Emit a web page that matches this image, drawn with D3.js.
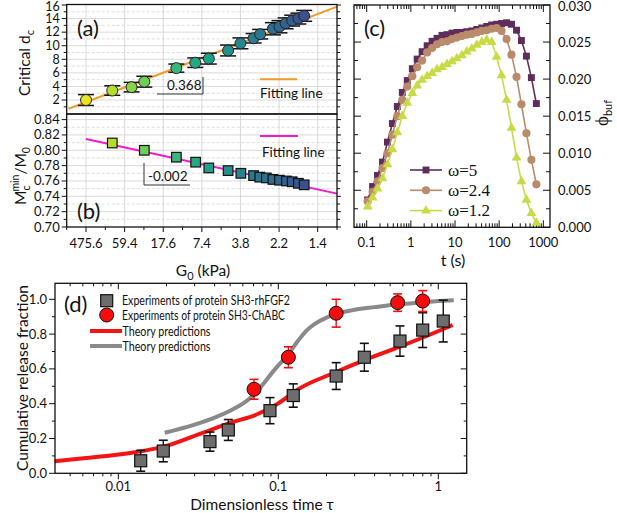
<!DOCTYPE html>
<html><head><meta charset="utf-8">
<script src="https://cdn.jsdelivr.net/npm/d3@7"></script>
<style>body{margin:0;background:#fff} svg{display:block;font-family:Lato,"Open Sans",sans-serif} text{fill:#111}</style>
</head><body><svg id="c" width="617" height="513"></svg>
<script>
// ---------------- DATA ----------------
// panels (a),(b): shared G0 axis (category-like positions)
const gLabels = ["475.6","59.4","17.6","7.4","3.8","2.2","1.4"];
const gPos = [0,1,2,3,4,5,6];
const aPos = [0,0.68,1.18,1.51,2.34,2.83,3.18,3.68,4.0,4.34,4.51,4.84,5.01,5.17,5.34,5.5,5.65];
const aVal = [2.0,3.4,3.9,4.7,6.7,7.5,8.1,9.3,10.35,11.1,11.7,12.5,12.8,13.3,13.7,14.0,14.4];
const aErr = [0.8,0.7,0.7,0.8,0.6,0.7,0.8,0.8,0.8,0.7,0.7,0.9,0.9,0.8,0.8,0.8,0.8];
const aFitX = [-0.45,6.5];
const aFitY = [0.72,15.76];
const aTicks = [2,4,6,8,10,12,14,16];
const bPos = [0.68,1.51,2.34,2.84,3.18,3.68,4.01,4.34,4.50,4.67,4.84,5.01,5.19,5.34,5.5,5.65];
const bVal = [0.8095,0.800,0.791,0.7845,0.777,0.7735,0.770,0.767,0.765,0.764,0.762,0.761,0.760,0.759,0.757,0.755];
const bFitX = [0,6.5];
const bFitY = [0.8148,0.7435];
const bTicks = [0.70,0.72,0.74,0.76,0.78,0.80,0.82,0.84];
// panel (c)
const cTime = [0.105,0.136,0.176,0.228,0.295,0.382,0.494,0.641,0.830,1.08,1.39,1.80,2.34,3.03,3.92,5.08,6.58,8.53,11.0,14.3,18.5,24.0,31.1,40.3,52.2,67.6,87.5,113,147,190,247,319,414,536,695];
const cW5  = [0.0037,0.0055,0.0070,0.0088,0.0115,0.0140,0.0163,0.0182,0.0198,0.0214,0.0227,0.0237,0.0245,0.0251,0.0255,0.0259,0.0260,0.0262,0.0263,0.0263,0.0264,0.0265,0.0267,0.0269,0.0271,0.0273,0.0274,0.0275,0.0276,0.0274,0.0266,0.0252,0.0231,0.0202,0.0167];
const cW24 = [0.0035,0.0048,0.0062,0.0080,0.0100,0.0125,0.0150,0.0172,0.0190,0.0204,0.0216,0.0225,0.0236,0.0242,0.0247,0.0250,0.0251,0.0254,0.0256,0.0258,0.0260,0.0261,0.0263,0.0265,0.0266,0.0268,0.0269,0.0265,0.0254,0.0233,0.0203,0.0166,0.0127,0.0091,0.0058];
const cW12 = [0.0028,0.0040,0.0052,0.0066,0.0085,0.0105,0.0128,0.0150,0.0168,0.0181,0.0191,0.0199,0.0204,0.0208,0.0213,0.0216,0.0220,0.0224,0.0228,0.0232,0.0237,0.0241,0.0246,0.0250,0.0253,0.0250,0.0230,0.0205,0.0172,0.0134,0.0094,0.0062,0.0037,0.0019,0.0006];
const cXTicks = [0.1,1,10,100,1000];
const cXLabels = ["0.1","1","10","100","1000"];
const cYTicks = [0,0.005,0.010,0.015,0.020,0.025,0.030];
const cYLabels = ["0.000","0.005","0.010","0.015","0.020","0.025","0.030"];
// panel (d)
const dTauFGF = [0.0138,0.0191,0.0374,0.0487,0.0887,0.124,0.230,0.345,0.576,0.799,1.074];
const dValFGF = [0.072,0.128,0.182,0.249,0.360,0.447,0.559,0.667,0.760,0.823,0.875];
const dErrFGF = [0.060,0.062,0.055,0.060,0.075,0.067,0.077,0.080,0.087,0.100,0.120];
const dTauABC = [0.0705,0.1156,0.230,0.557,0.799];
const dValABC = [0.483,0.667,0.920,0.981,0.990];
const dErrABC = [0.057,0.060,0.080,0.050,0.060];
const dRedTau = [0.004,0.0077,0.0124,0.02,0.032,0.052,0.072,0.1,0.136,0.22,0.355,0.575,0.93,1.23];
const dRedVal = [0.069,0.096,0.119,0.158,0.225,0.295,0.335,0.402,0.488,0.575,0.655,0.728,0.805,0.852];
const dGrayTau = [0.0195,0.03,0.04,0.05,0.06,0.07,0.08,0.09,0.1,0.115,0.13,0.15,0.17,0.2,0.25,0.3,0.4,0.55,0.75,1.0,1.25];
const dGrayVal = [0.233,0.28,0.32,0.36,0.40,0.45,0.51,0.57,0.62,0.68,0.75,0.82,0.86,0.895,0.925,0.94,0.955,0.97,0.98,0.99,0.995];
const dXTicks = [0.01,0.1,1];
const dXLabels = ["0.01","0.1","1"];
const dYTicks = [0,0.2,0.4,0.6,0.8,1.0];
const dYLabels = ["0.0","0.2","0.4","0.6","0.8","1.0"];
const dLegend = ["Experiments of protein SH3-rhFGF2","Experiments of protein SH3-ChABC","Theory predictions","Theory predictions"];

// ---------------- DRAW ----------------
const svg = d3.select("#c");
svg.append("rect").attr("width",617).attr("height",513).attr("fill","#fff");

function L(g,x1,y1,x2,y2,col,w,dash){
  const l=g.append("line").attr("x1",x1).attr("y1",y1).attr("x2",x2).attr("y2",y2)
   .attr("stroke",col||"#000").attr("stroke-width",w||1);
  if(dash) l.attr("stroke-dasharray",dash);
  return l;
}
function T(g,x,y,s,size,anchor){
  return g.append("text").attr("x",x).attr("y",y).attr("font-size",size).attr("text-anchor",anchor||"start").text(s);
}
function frame(g,x0,y0,x1,y1){
  g.append("rect").attr("x",x0).attr("y",y0).attr("width",x1-x0).attr("height",y1-y0)
   .attr("fill","none").attr("stroke","#111").attr("stroke-width",1.3);
}

// ===== Panel (a) =====
const xAB = d3.scaleLinear().domain([-0.5,6.5]).range([66.7,337]);
const yA = d3.scaleLinear().domain([0,16]).range([113.6,5]);
const gA = svg.append("g");
const ax0=xAB.range()[0], ax1=xAB.range()[1];
for(let v=1; v<16; v+=1){
  if(v%2===0) L(gA,ax0,yA(v),ax1,yA(v),"#cfcfcf",0.8);
  else L(gA,ax0,yA(v),ax1,yA(v),"#d4d4d4",0.8,"3,2");
}
gPos.forEach(p=>L(gA,xAB(p),yA(16),xAB(p),114,"#cfcfcf",0.8));
gA.append("clipPath").attr("id","clipA").append("rect").attr("x",ax0).attr("y",4).attr("width",ax1-ax0).attr("height",110);
gA.append("path").attr("clip-path","url(#clipA)")
  .attr("d",d3.line()(aFitX.map((x,i)=>[xAB(x),yA(aFitY[i])])))
  .attr("stroke","#f39a2c").attr("stroke-width",2).attr("fill","none");
const colA = u => d3.interpolateViridis(0.97-0.72*u/5.65);
aPos.forEach((p,i)=>{
  const x=xAB(p);
  L(gA,x,yA(aVal[i]+aErr[i]),x,yA(aVal[i]-aErr[i]),"#111",1.2);
  L(gA,x-8,yA(aVal[i]+aErr[i]),x+8,yA(aVal[i]+aErr[i]),"#111",1.5);
  L(gA,x-8,yA(aVal[i]-aErr[i]),x+8,yA(aVal[i]-aErr[i]),"#111",1.5);
});
aPos.forEach((p,i)=>{
  gA.append("circle").attr("cx",xAB(p)).attr("cy",yA(aVal[i])).attr("r",5.5)
    .attr("fill",colA(p)).attr("stroke","#222").attr("stroke-width",1);
});
aTicks.forEach(v=>{
  L(gA,ax0-5,yA(v),ax0,yA(v),"#111",1);
  L(gA,ax1,yA(v),ax1+4,yA(v),"#111",1);
  T(gA,ax0-7,yA(v)+(v===16?5.5:4.3),String(v),12.5,"end");
});
for(let v=1; v<16; v+=2){ L(gA,ax0-3,yA(v),ax0,yA(v),"#111",1); L(gA,ax1,yA(v),ax1+3,yA(v),"#111",1); }
frame(gA,ax0,4.5,ax1,114);
T(gA,167,90,"0.368",13.5);
L(gA,203,77,203,94,"#333",1); L(gA,157,94,203,94,"#333",1);
L(gA,260,79.3,297,79.3,"#f39a2c",2);
T(gA,260,98,"Fitting line",13.5);
T(gA,77,36,"(a)",22);
gA.append("text").attr("transform","translate(30,63) rotate(-90)").attr("text-anchor","middle").attr("font-size",15.5)
  .html('Critical d<tspan dy="4" font-size="11">c</tspan>');

// ===== Panel (b) =====
const yB = d3.scaleLinear().domain([0.70,0.8473]).range([227,114]);
const gB = svg.append("g");
for(let k=1;k<15;k++){
  const v=0.70+k*0.01;
  if(k%2===0) L(gB,ax0,yB(v),ax1,yB(v),"#cfcfcf",0.8);
  else L(gB,ax0,yB(v),ax1,yB(v),"#d4d4d4",0.8,"3,2");
}
gPos.forEach(p=>L(gB,xAB(p),114,xAB(p),227,"#cfcfcf",0.8));
gB.append("path").attr("d",d3.line()(bFitX.map((x,i)=>[xAB(x),yB(bFitY[i])])))
  .attr("stroke","#f21ad0").attr("stroke-width",2).attr("fill","none");
bPos.forEach((p,i)=>{
  gB.append("rect").attr("x",xAB(p)-4.8).attr("y",yB(bVal[i])-4.8).attr("width",9.6).attr("height",9.6)
    .attr("fill",colA(p)).attr("stroke","#111").attr("stroke-width",1.2);
});
bTicks.forEach((v,i)=>{
  L(gB,ax0-5,yB(v),ax0,yB(v),"#111",1);
  L(gB,ax1,yB(v),ax1+4,yB(v),"#111",1);
  T(gB,ax0-7,yB(v)+4.5,v.toFixed(2),13,"end");
});
for(let k=1;k<15;k+=2){const v=0.70+k*0.01; L(gB,ax0-3,yB(v),ax0,yB(v),"#111",1); L(gB,ax1,yB(v),ax1+3,yB(v),"#111",1);}
gPos.forEach((p,i)=>{
  L(gB,xAB(p),227,xAB(p),232,"#111",1);
  T(gB,xAB(p),248,gLabels[i],13,"middle");
});
for(let p=-0.5;p<=6.5;p+=1) L(gB,xAB(p),227,xAB(p),230,"#111",1);
frame(gB,ax0,114,ax1,227);
T(gB,148,181,"-0.002",13.5);
L(gB,144,163,144,185,"#333",1); L(gB,144,185,190,185,"#333",1);
L(gB,260,136,298,136,"#f21ad0",2);
T(gB,262,157,"Fitting line",13.5);
T(gB,77,219,"(b)",22);
gB.append("text").attr("transform","translate(26,176) rotate(-90)").attr("text-anchor","middle").attr("font-size",15.5)
  .html('M<tspan dy="4" font-size="10.5">c</tspan><tspan dx="-6" dy="-11" font-size="10.5">min</tspan><tspan dy="7">/M</tspan><tspan dy="4" font-size="10.5">0</tspan>');
svg.append("text").attr("x",203).attr("y",276).attr("text-anchor","middle").attr("font-size",15.5)
  .html('G<tspan dy="4" font-size="11">0</tspan><tspan dy="-4"> (kPa)</tspan>');

// ===== Panel (c) =====
const xC = d3.scaleLog().domain([0.0516,1415]).range([354,550]);
const yC = d3.scaleLinear().domain([0,0.030]).range([227.3,5]);
const gC = svg.append("g");
const cx0=354,cx1=550,cy0=5,cy1=227.3;
for(let e=-2;e<=3;e++){
  for(let m=1;m<=9;m++){
    const v=m*Math.pow(10,e);
    if(v<xC.domain()[0]||v>xC.domain()[1]) continue;
    const len = m===1?7:4;
    L(gC,xC(v),cy1,xC(v),cy1-len,"#111",1);
    L(gC,xC(v),cy0,xC(v),cy0+len,"#111",1);
  }
}
cXTicks.forEach((v,i)=>T(gC,xC(v),247,cXLabels[i],13,"middle"));
for(let k=0;k<=12;k++){
  const v=k*0.0025, len=k%2===0?7:4;
  L(gC,cx0,yC(v),cx0+len,yC(v),"#111",1);
  L(gC,cx1-len,yC(v),cx1,yC(v),"#111",1);
}
cYTicks.forEach((v,i)=>T(gC,cx1+8,yC(v)+(v===0.03?5.5:4.5),cYLabels[i],13,"start"));
const cSeries = [
  {name:"ω=5",vals:cW5,color:"#5f2d5c",sym:d3.symbolSquare,size:48},
  {name:"ω=2.4",vals:cW24,color:"#b98b6b",sym:d3.symbolCircle,size:52},
  {name:"ω=1.2",vals:cW12,color:"#c8db47",sym:d3.symbolTriangle,size:42}
];
const lineC = d3.line().x(d=>xC(d[0])).y(d=>yC(d[1]));
cSeries.forEach(s=>{
  const pts=cTime.map((t,i)=>[t,s.vals[i]]);
  gC.append("path").attr("d",lineC(pts)).attr("fill","none").attr("stroke",s.color).attr("stroke-width",1.6);
  pts.forEach(p=>gC.append("path").attr("d",d3.symbol().type(s.sym).size(s.size)())
    .attr("transform",`translate(${xC(p[0])},${yC(p[1])})`).attr("fill",s.color));
});
cSeries.forEach((s,i)=>{
  const y=170+i*20.3;
  L(gC,410,y,442,y,s.color,1.6);
  gC.append("path").attr("d",d3.symbol().type(s.sym).size(s.size)()).attr("transform",`translate(426,${y})`).attr("fill",s.color);
  gC.append("text").attr("x",448).attr("y",y+5.5).attr("font-size",17).attr("font-family","'Liberation Serif','DejaVu Serif',serif").text(s.name);
});
frame(gC,cx0,cy0,cx1,cy1);
T(gC,364,36,"(c)",22);
svg.append("text").attr("x",453).attr("y",266).attr("text-anchor","middle").attr("font-size",16).text("t (s)");
svg.append("text").attr("transform","translate(608,113) rotate(-90)").attr("text-anchor","middle").attr("font-size",19)
  .html('<tspan font-family="Liberation Serif,DejaVu Serif,serif">ϕ</tspan><tspan dy="4" font-size="11">buf</tspan>');

// ===== Panel (d) =====
const xD = d3.scaleLog().domain([0.00402,1.505]).range([55,466.7]);
const yD = d3.scaleLinear().domain([0,1.092]).range([473.3,283.3]);
const gD = svg.append("g");
const dx0=55,dx1=466.7,dy0=283.3,dy1=473.3;
for(let e=-3;e<=0;e++){
  for(let m=1;m<=9;m++){
    const v=m*Math.pow(10,e);
    if(v<xD.domain()[0]||v>xD.domain()[1]) continue;
    const len=m===1?6:3;
    L(gD,xD(v),dy1,xD(v),dy1+len,"#111",1);
    L(gD,xD(v),dy0,xD(v),dy0+len,"#111",1);
  }
}
dXTicks.forEach((v,i)=>T(gD,xD(v),491,dXLabels[i],13,"middle"));
for(let k=0;k<=10;k++){
  const v=k*0.1,len=k%2===0?6:3;
  L(gD,dx0-len,yD(v),dx0,yD(v),"#111",1);
  L(gD,dx1-len,yD(v),dx1,yD(v),"#111",1);
}
dYTicks.forEach((v,i)=>T(gD,dx0-8,yD(v)+4.5,dYLabels[i],13,"end"));
const lineD = d3.line().x(d=>xD(d[0])).y(d=>yD(d[1])).curve(d3.curveMonotoneX);
gD.append("path").attr("d",lineD(dRedTau.map((t,i)=>[t,dRedVal[i]]))).attr("fill","none").attr("stroke","#f41414").attr("stroke-width",4);
gD.append("path").attr("d",lineD(dGrayTau.map((t,i)=>[t,dGrayVal[i]]))).attr("fill","none").attr("stroke","#8a8a8a").attr("stroke-width",4);
function ebar(g,x,yv,e,col){
  L(g,x,yD(yv+e),x,yD(yv-e),col,1.4);
  L(g,x-4.5,yD(yv+e),x+4.5,yD(yv+e),col,1.6);
  L(g,x-4.5,yD(yv-e),x+4.5,yD(yv-e),col,1.6);
}
dTauFGF.forEach((t,i)=>ebar(gD,xD(t),dValFGF[i],dErrFGF[i],"#111"));
dTauFGF.forEach((t,i)=>gD.append("rect").attr("x",xD(t)-6).attr("y",yD(dValFGF[i])-6).attr("width",12).attr("height",12)
  .attr("fill","#6d6d6d").attr("stroke","#111").attr("stroke-width",1.2));
dTauABC.forEach((t,i)=>ebar(gD,xD(t),dValABC[i],dErrABC[i],"#f01010"));
dTauABC.forEach((t,i)=>gD.append("circle").attr("cx",xD(t)).attr("cy",yD(dValABC[i])).attr("r",7)
  .attr("fill","#f40d0d").attr("stroke","#111").attr("stroke-width",1));
frame(gD,dx0,dy0,dx1,dy1);
// legend
gD.append("rect").attr("x",100.7).attr("y",294.7).attr("width",12).attr("height",12).attr("fill","#6d6d6d").attr("stroke","#111").attr("stroke-width",1.2);
gD.append("circle").attr("cx",106.7).attr("cy",315).attr("r",7).attr("fill","#f40d0d").attr("stroke","#111");
L(gD,90,331,122,331,"#f41414",4);
L(gD,90,346,122,346,"#8a8a8a",4);
const legY=[305,319.5,335.5,350.5], legX=[122,122,122.5,122.5], legW=[168,163,88,88];
dLegend.forEach((s,i)=>T(gD,legX[i],legY[i],s,13).attr("textLength",legW[i]).attr("lengthAdjust","spacingAndGlyphs"));
T(gD,64,312,"(d)",22);
svg.append("text").attr("transform","translate(28,378) rotate(-90)").attr("text-anchor","middle").attr("font-size",15.5).text("Cumulative release fraction");
svg.append("text").attr("x",262).attr("y",510).attr("text-anchor","middle").attr("font-size",15.5).text("Dimensionless time τ");
</script></body></html>
